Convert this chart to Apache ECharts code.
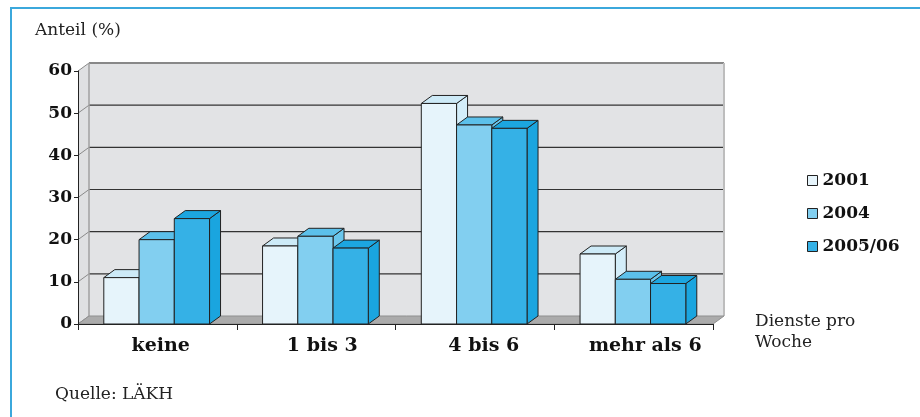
<!DOCTYPE html>
<html>
<head>
<meta charset="utf-8">
<script src="https://cdn.jsdelivr.net/npm/echarts@6/dist/echarts.min.js"></script>
<style>
  html, body { margin: 0; padding: 0; background: #ffffff; }
  #chart { width: 920px; height: 417px; }
</style>
</head>
<body>
<div id="chart"></div>
<script>
// Anteil der Ärztinnen und Ärzte nach Anzahl der Dienste pro Woche
const categories = ['keine', '1 bis 3', '4 bis 6', 'mehr als 6'];
const years = ['2001', '2004', '2005/06'];
const values2001 = [11, 18.5, 52.3, 16.6];
const values2004 = [20, 20.8, 47.2, 10.6];
const values2005 = [25, 18, 46.4, 9.6];
const yTicks = [0, 10, 20, 30, 40, 50, 60];

// face colours per year: front, top, side
const frontColors = ['#e6f4fb', '#82cff0', '#35b1e6'];
const topColors   = ['#cdeaf7', '#5cc0ea', '#1ca6e0'];
const sideColors  = ['#d3edf9', '#6ac6ec', '#1aa5df'];

const DX = 11, DY = 8;          // depth offset of the pseudo-3D box
const EDGE = '#222222';
const SERIF = '"DejaVu Serif", serif';

const chart = echarts.init(document.getElementById('chart'), null, { renderer: 'canvas' });

// back wall, left wall, floor and wall grid lines
function renderFrame(params, api) {
  const cw = api.size([1, 0])[0];
  const xl = api.coord([0, 0])[0] - cw / 2;
  const xr = api.coord([categories.length - 1, 0])[0] + cw / 2;
  const y0 = api.coord([0, 0])[1];
  const yTop = api.coord([0, yTicks[yTicks.length - 1]])[1];
  const children = [];
  // back wall
  children.push({ type: 'rect', shape: { x: xl + DX, y: yTop - DY, width: xr - xl, height: y0 - yTop },
    style: { fill: '#e2e3e5' } });
  // left wall
  children.push({ type: 'polygon', shape: { points: [[xl, y0], [xl, yTop], [xl + DX, yTop - DY], [xl + DX, y0 - DY]] },
    style: { fill: '#dfe0e2' } });
  // grid lines on the back wall, with the diagonals across the left wall
  yTicks.forEach(function (t) {
    const y = api.coord([0, t])[1];
    if (t > 0 && t < yTicks[yTicks.length - 1]) {
      children.push({ type: 'line', shape: { x1: xl + DX, y1: y - DY, x2: xr + DX, y2: y - DY },
        style: { stroke: '#333333', lineWidth: 1.2 } });
    }
    children.push({ type: 'line', shape: { x1: xl, y1: y, x2: xl + DX, y2: y - DY },
      style: { stroke: '#8a8a8a', lineWidth: 1 } });
  });
  // wall edges
  children.push({ type: 'line', shape: { x1: xl + DX, y1: yTop - DY, x2: xr + DX, y2: yTop - DY },
    style: { stroke: '#888888', lineWidth: 2 } });
  children.push({ type: 'line', shape: { x1: xl + DX, y1: yTop - DY, x2: xl + DX, y2: y0 - DY },
    style: { stroke: '#a0a0a0', lineWidth: 1.5 } });
  children.push({ type: 'line', shape: { x1: xr + DX, y1: yTop - DY, x2: xr + DX, y2: y0 - DY },
    style: { stroke: '#bdbdbd', lineWidth: 2 } });
  // floor
  children.push({ type: 'polygon', shape: { points: [[xl, y0], [xr, y0], [xr + DX, y0 - DY], [xl + DX, y0 - DY]] },
    style: { fill: '#ababab', stroke: '#8f8f8f', lineWidth: 1 } });
  return { type: 'group', children: children };
}

function makeBarRenderer(k) {
  return function (params, api) {
    const c = api.value(0);
    const v = api.value(1);
    const base = api.coord([c, 0]);
    const top = api.coord([c, v]);
    const cw = api.size([1, 0])[0];
    const bw = cw * 0.222;
    const x0 = base[0] - 1.5 * bw - 0.7 + k * bw;
    const x1 = x0 + bw;
    const yb = base[1];
    const yt = top[1];
    return {
      type: 'group',
      children: [
        { type: 'polygon', shape: { points: [[x1, yb], [x1 + DX, yb - DY], [x1 + DX, yt - DY], [x1, yt]] },
          style: { fill: sideColors[k], stroke: EDGE, lineWidth: 1 } },
        { type: 'polygon', shape: { points: [[x0, yt], [x0 + DX, yt - DY], [x1 + DX, yt - DY], [x1, yt]] },
          style: { fill: topColors[k], stroke: EDGE, lineWidth: 1 } },
        { type: 'rect', shape: { x: x0, y: yt, width: bw, height: yb - yt },
          style: { fill: frontColors[k], stroke: EDGE, lineWidth: 1 } }
      ]
    };
  };
}

const seriesValues = [values2001, values2004, values2005];

const option = {
  backgroundColor: '#ffffff',
  animation: false,
  grid: [
    { left: 78, right: 207, top: 71, bottom: 93 },
    { left: 80, right: 194, top: 71, bottom: 93 }
  ],
  xAxis: [
    { type: 'category', gridIndex: 0, data: categories, z: 5,
      axisLine: { lineStyle: { color: '#222', width: 1 } },
      axisTick: { show: true, length: 6, lineStyle: { color: '#222' } },
      axisLabel: { show: false }, splitLine: { show: false } },
    { type: 'category', gridIndex: 1, data: categories,
      axisLine: { show: false }, axisTick: { show: false },
      axisLabel: { show: true, margin: 13, color: '#111', fontFamily: SERIF, fontWeight: 'bold', fontSize: 19 } }
  ],
  yAxis: [
    { type: 'value', gridIndex: 0, min: 0, max: 60, interval: 10, z: 5,
      axisLine: { show: true, lineStyle: { color: '#222', width: 1 } },
      axisTick: { show: true, length: 4, lineStyle: { color: '#222' } },
      axisLabel: { margin: 6, color: '#111', fontFamily: SERIF, fontWeight: 'bold', fontSize: 17 },
      splitLine: { show: false } },
    { type: 'value', gridIndex: 1, min: 0, max: 60, show: false }
  ],
  legend: {
    orient: 'vertical',
    left: 807,
    top: 172,
    padding: 0,
    icon: 'rect',
    itemWidth: 10,
    itemHeight: 10,
    itemGap: 16,
    textStyle: { color: '#111', fontFamily: SERIF, fontWeight: 'bold', fontSize: 17, lineHeight: 17 },
    data: years.map(function (y, i) {
      return { name: y, itemStyle: { color: frontColors[i], borderColor: EDGE, borderWidth: 1 } };
    })
  },
  series: [
    { type: 'custom', name: 'frame', xAxisIndex: 0, yAxisIndex: 0, z: 1, silent: true,
      renderItem: renderFrame, data: [[0, 0]], encode: { x: 0, y: 1 } }
  ].concat(years.map(function (y, k) {
    return {
      type: 'custom', name: y, xAxisIndex: 0, yAxisIndex: 0, z: 2,
      renderItem: makeBarRenderer(k),
      itemStyle: { color: frontColors[k] },
      encode: { x: 0, y: 1 },
      data: seriesValues[k].map(function (v, i) { return [i, v]; })
    };
  })),
  graphic: [
    { type: 'line', shape: { x1: 10, y1: 8, x2: 920, y2: 8 }, style: { stroke: '#3ba8dc', lineWidth: 2 } },
    { type: 'line', shape: { x1: 11, y1: 7, x2: 11, y2: 417 }, style: { stroke: '#3ba8dc', lineWidth: 2 } },
    { type: 'text', left: 35, top: 22,
      style: { text: 'Anteil (%)', fill: '#222', font: '17px ' + SERIF } },
    { type: 'text', left: 755, top: 311,
      style: { text: 'Dienste pro\nWoche', fill: '#222', font: '17px ' + SERIF, lineHeight: 21 } },
    { type: 'text', left: 55, top: 386,
      style: { text: 'Quelle: LÄKH', fill: '#222', font: '17px ' + SERIF } }
  ]
};

chart.setOption(option);
</script>
</body>
</html>
